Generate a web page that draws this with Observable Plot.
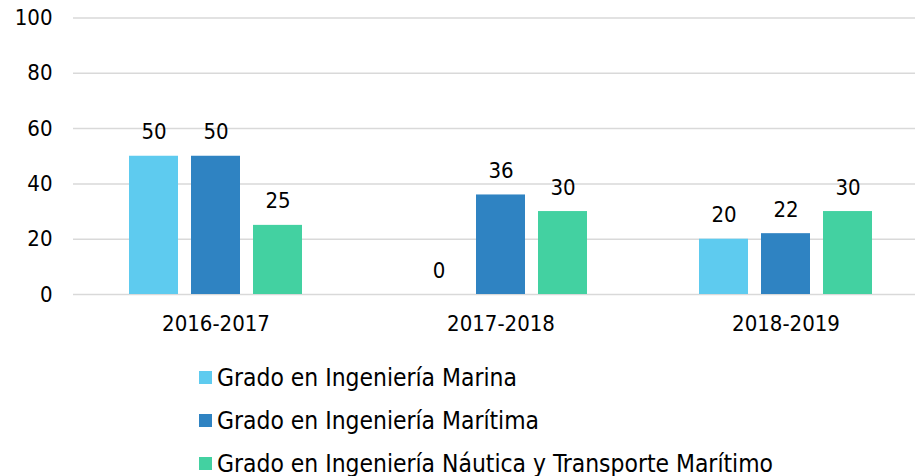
<!DOCTYPE html>
<html>
<head>
<meta charset="utf-8">
<script src="https://cdn.jsdelivr.net/npm/d3@7"></script>
<script src="https://cdn.jsdelivr.net/npm/@observablehq/plot@0.6"></script>
<style>
  html, body { margin: 0; padding: 0; background: #fff; }
  body { width: 915px; height: 476px; overflow: hidden; font-family: "DejaVu Sans Condensed", "DejaVu Sans", sans-serif; font-stretch: condensed; color: #000; }
  #chart svg { display: block; }
  #legend { position: relative; height: 136px; }
  .item { position: absolute; left: 199px; height: 26px; display: flex; align-items: center; font-size: 24.4px; white-space: nowrap; }
  .sw { width: 13px; height: 13px; margin-right: 5px; flex: none; }
</style>
</head>
<body>
<div id="chart"></div>
<div id="legend"></div>
<script>
const years = ["2016-2017", "2017-2018", "2018-2019"];
const series = ["Grado en Ingeniería Marina", "Grado en Ingeniería Marítima", "Grado en Ingeniería Náutica y Transporte Marítimo"];
const colors = ["#5ecbef", "#2f83c2", "#43d1a1"];
const marina = [50, 0, 20];
const maritima = [50, 36, 22];
const nautica = [25, 30, 30];
const yTicks = [0, 20, 40, 60, 80, 100];

const valuesBySeries = [marina, maritima, nautica];
const data = [];
years.forEach((yr, i) => {
  series.forEach((s, j) => data.push({year: yr, series: s, value: valuesBySeries[j][i]}));
});

const font = '"DejaVu Sans Condensed", "DejaVu Sans", sans-serif';

const chart = Plot.plot({
  width: 915,
  height: 340,
  marginLeft: 73,
  marginRight: -13,
  marginTop: 17.5,
  marginBottom: 46,
  style: {fontFamily: font, fontSize: "22px", color: "#000", background: "#fff", fontStretch: "condensed"},
  fx: {domain: years, padding: 0, label: null},
  x: {domain: series, paddingInner: 0.21, paddingOuter: 0.87, axis: null},
  y: {domain: [0, 100], label: null},
  color: {domain: series, range: colors},
  marks: [
    Plot.gridY(yTicks, {stroke: "#d9d9d9", strokeOpacity: 1, strokeWidth: 1.5}),
    Plot.axisY(yTicks, {tickSize: 0, tickPadding: 21, fontSize: 22, label: null}),
    Plot.axisFx({anchor: "bottom", tickSize: 0, tickPadding: 21, fontSize: 22, label: null}),
    Plot.barY(data, {fx: "year", x: "series", y: "value", fill: "series"}),
    Plot.text(data, {fx: "year", x: "series", y: "value", text: d => String(d.value), dy: -24, fontSize: 22, fill: "#000"})
  ]
});
document.getElementById("chart").appendChild(chart);

const legend = document.getElementById("legend");
const rowCenters = [37, 80, 123];
series.forEach((s, i) => {
  const item = document.createElement("div");
  item.className = "item";
  item.style.top = (rowCenters[i] - 13) + "px";
  const sw = document.createElement("span");
  sw.className = "sw";
  sw.style.background = colors[i];
  const t = document.createElement("span");
  t.textContent = s;
  item.appendChild(sw);
  item.appendChild(t);
  legend.appendChild(item);
});
</script>
</body>
</html>
